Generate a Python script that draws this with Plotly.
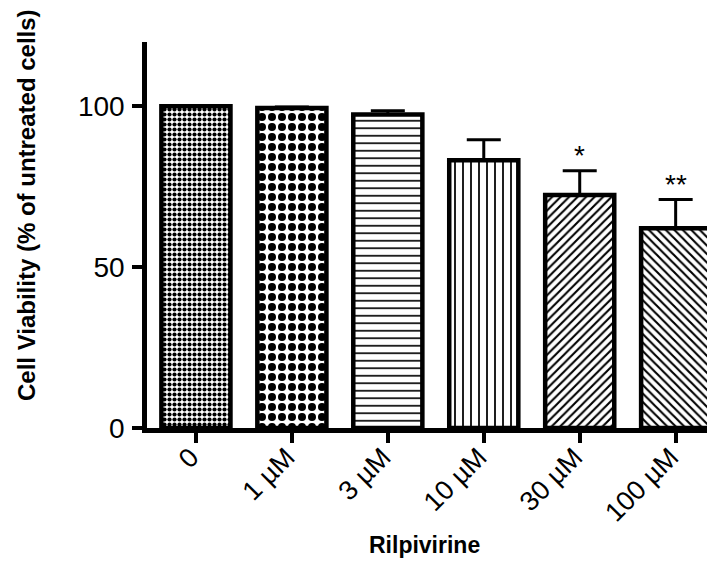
import plotly.graph_objects as go

categories = ["0", "1 µM", "3 µM", "10 µM", "30 µM", "100 µM"]
viability = [100.0, 99.5, 97.5, 83.2, 72.4, 62.1]
sem_upper = [0.0, 0.3, 1.1, 6.4, 7.6, 8.9]
significance = ["", "", "", "", "*", "**"]
y_ticks = [0, 50, 100]

patterns = [
    dict(shape=".", size=5, solidity=0.55),
    dict(shape=".", size=10, solidity=0.5),
    dict(shape="-", size=7.5, solidity=0.22),
    dict(shape="|", size=8, solidity=0.22),
    dict(shape="/", size=6, solidity=0.35),
    dict(shape="\\", size=6, solidity=0.35),
]

FONT = "Liberation Sans, Arial, sans-serif"
x_idx = list(range(len(categories)))

fig = go.Figure()
for i, (cat, v, e, p) in enumerate(zip(categories, viability, sem_upper, patterns)):
    fig.add_trace(go.Bar(
        x=[i], y=[v], width=0.72,
        marker=dict(color="white",
                    line=dict(color="black", width=4.5),
                    pattern=dict(fgcolor="black", bgcolor="white", fillmode="replace", **p)),
        error_y=dict(type="data", array=[e], arrayminus=[0], symmetric=False,
                     color="black", thickness=3, width=17, visible=e > 0),
        showlegend=False,
    ))

for i, (v, e, s) in enumerate(zip(viability, sem_upper, significance)):
    if s:
        fig.add_annotation(x=i, y=v + e, text=s, showarrow=False, yanchor="bottom",
                           yshift=-2, font=dict(family=FONT, size=28, color="black"))

# plot area in figure px: x 139..707, y 34..420 (page has 8px body margin)
fig.add_annotation(xref="paper", yref="paper", x=-0.211, y=0.578, text="<b>Cell Viability (% of untreated cells)</b>",
                   textangle=-90, showarrow=False, xanchor="center", yanchor="middle",
                   font=dict(family=FONT, size=24, color="black"))
fig.add_annotation(xref="paper", yref="paper", x=0.489, y=-0.303, text="<b>Rilpivirine</b>",
                   showarrow=False, xanchor="center", yanchor="middle",
                   font=dict(family=FONT, size=23, color="black"))

fig.update_layout(
    width=707, height=566,
    margin=dict(l=139, r=0, t=34, b=146, autoexpand=False),
    paper_bgcolor="white", plot_bgcolor="white",
    bargap=0.28,
    font=dict(family=FONT, color="black"),
)
fig.update_xaxes(
    range=[-0.51, 5.41], tickmode="array", tickvals=x_idx, ticktext=categories,
    tickangle=-45, tickfont=dict(family=FONT, size=27, color="black"),
    ticklabelstandoff=-12, ticklabelshift=-5,
    showline=True, linecolor="black", linewidth=4.5,
    ticks="outside", ticklen=10, tickwidth=4, tickcolor="black",
    showgrid=False, zeroline=False, automargin=False,
)
fig.update_yaxes(
    range=[0, 120], tickmode="array", tickvals=y_ticks,
    tickfont=dict(family=FONT, size=28, color="black"),
    ticklabelstandoff=2,
    showline=True, linecolor="black", linewidth=4.5,
    ticks="outside", ticklen=10, tickwidth=4, tickcolor="black",
    showgrid=False, zeroline=False, automargin=False,
)

fig.write_html("out.html")
